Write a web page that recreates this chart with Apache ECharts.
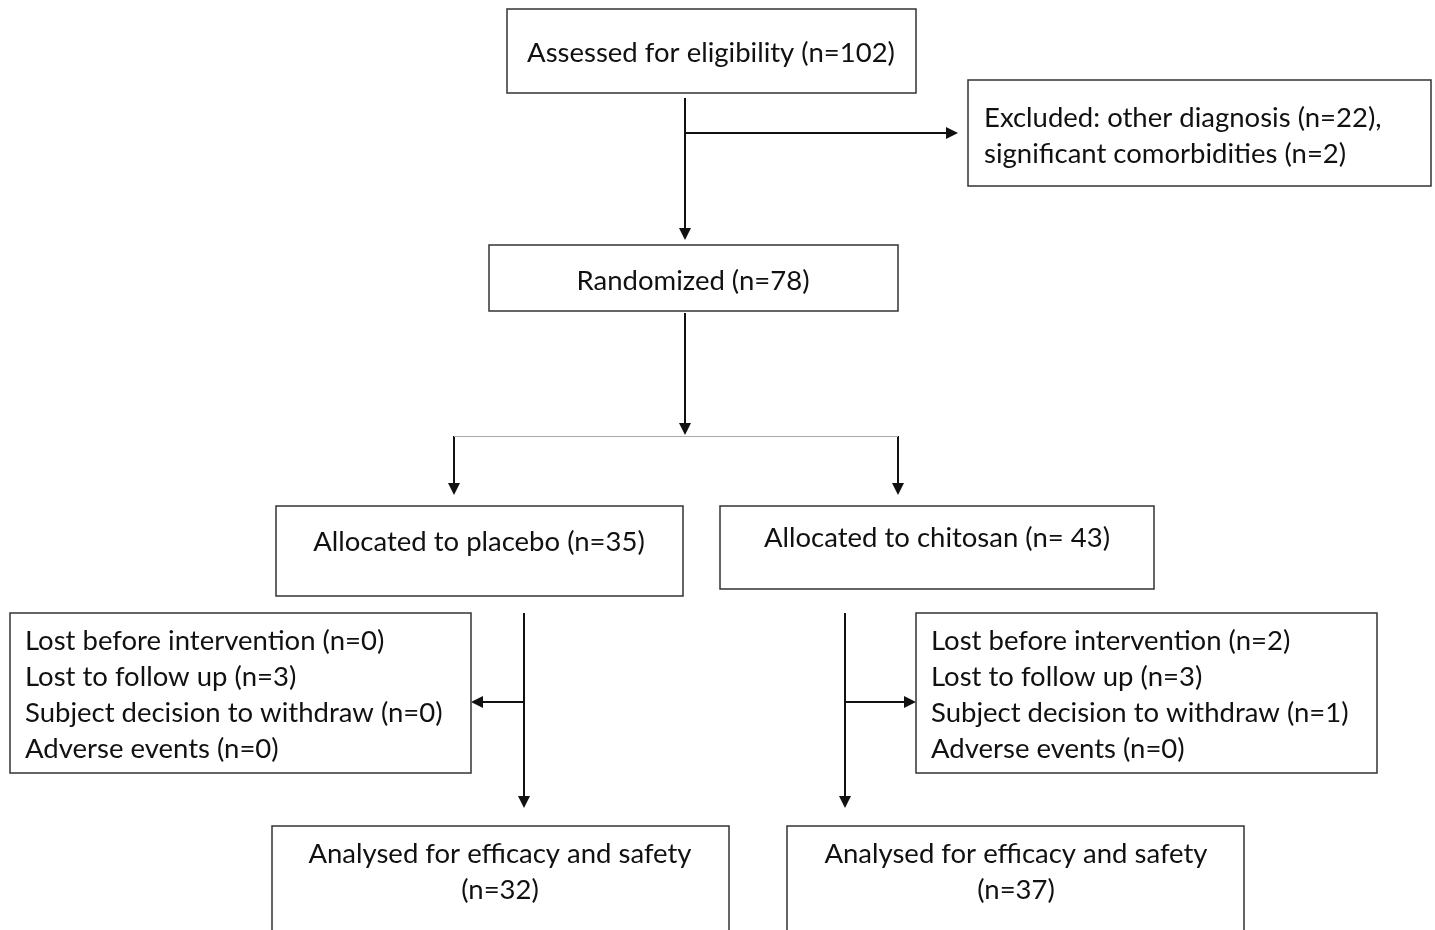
<!DOCTYPE html>
<html lang="en">
<head>
<meta charset="UTF-8">
<title>Flow diagram</title>
<script src="https://cdn.jsdelivr.net/npm/echarts@6/dist/echarts.min.js"></script>
<style>
    html, body { margin: 0; padding: 0; background: #fff; }
    #main { width: 1435px; height: 930px; }
</style>
</head>
<body>
<div id="main"></div>
<script>
// numbers
var assessed = 102;
var excludedReasons = ['other diagnosis', 'significant comorbidities'];
var excludedCounts = [22, 2];
var randomized = 78;
var arms = ['placebo', 'chitosan'];
var allocated = [35, 43];
var lossReasons = ['Lost before intervention', 'Lost to follow up', 'Subject decision to withdraw', 'Adverse events'];
var lossPlacebo = [0, 3, 0, 0];
var lossChitosan = [2, 3, 1, 0];
var analysed = [32, 37];

function lossText(counts) {
    return lossReasons.map(function (r, i) { return r + ' (n=' + counts[i] + ')'; }).join('\n');
}

// text of each box, same order as the layout below
var boxTexts = [
    'Assessed for eligibility (n=' + assessed + ')',
    'Excluded: ' + excludedReasons[0] + ' (n=' + excludedCounts[0] + '),\n' + excludedReasons[1] + ' (n=' + excludedCounts[1] + ')',
    'Randomized (n=' + randomized + ')',
    'Allocated to ' + arms[0] + ' (n=' + allocated[0] + ')',
    'Allocated to ' + arms[1] + ' (n= ' + allocated[1] + ')',
    lossText(lossPlacebo),
    lossText(lossChitosan),
    'Analysed for efficacy and safety\n(n=' + analysed[0] + ')',
    'Analysed for efficacy and safety\n(n=' + analysed[1] + ')'
];

// layout (page pixels): box x0, y0, x1, y1, text anchor x, y
var boxLayout = [
    [507, 9, 916, 93, 711, 53],
    [968, 80, 1431, 186, 984, 136],
    [489, 245, 898, 311, 693, 281],
    [276, 506, 683, 596, 479, 542],
    [720, 506, 1154, 589, 937, 538],
    [10, 613, 471, 773, 25, 695],
    [916, 613, 1377, 773, 931, 695],
    [272, 826, 729, 945, 500, 872],
    [787, 826, 1244, 945, 1016, 872]
];
var boxAlign = ['center', 'left', 'center', 'center', 'center', 'left', 'left', 'center', 'center'];

var arrowLayout = [
    [[685, 98], [685, 234]],
    [[685, 133], [952, 133]],
    [[685, 313], [685, 429]],
    [[454, 436], [454, 489]],
    [[898, 436], [898, 489]],
    [[524, 613], [524, 802]],
    [[524, 702], [477, 702]],
    [[845, 613], [845, 802]],
    [[845, 702], [910, 702]]
];
var splitLine = [[[454, 436], [898, 436]]];

var myChart = echarts.init(document.getElementById('main'));
var option = {
    backgroundColor: '#fff',
    animation: false,
    grid: { left: 0, right: 0, top: 0, bottom: 0 },
    xAxis: { type: 'value', min: 0, max: 1435, show: false },
    yAxis: { type: 'value', min: 0, max: 930, inverse: true, show: false },
    series: [
        {
            type: 'lines',
            coordinateSystem: 'cartesian2d',
            silent: true,
            symbol: ['none', 'triangle'],
            symbolSize: [11, 12],
            lineStyle: { color: '#111', width: 2, opacity: 1 },
            data: arrowLayout.map(function (c) { return { coords: c }; })
        },
        {
            type: 'lines',
            coordinateSystem: 'cartesian2d',
            silent: true,
            symbol: 'none',
            lineStyle: { color: '#aaa', width: 1.2, opacity: 1 },
            data: splitLine.map(function (c) { return { coords: c }; })
        },
        {
            type: 'custom',
            silent: true,
            data: boxLayout,
            renderItem: function (params, api) {
                var p0 = api.coord([api.value(0), api.value(1)]);
                var p1 = api.coord([api.value(2), api.value(3)]);
                var t = api.coord([api.value(4), api.value(5)]);
                return {
                    type: 'group',
                    children: [
                        {
                            type: 'rect',
                            shape: { x: p0[0], y: p0[1], width: p1[0] - p0[0], height: p1[1] - p0[1] },
                            style: { fill: '#fff', stroke: '#333', lineWidth: 1.5 }
                        },
                        {
                            type: 'text',
                            x: t[0],
                            y: t[1],
                            style: {
                                text: boxTexts[params.dataIndex],
                                font: '27.5px Lato',
                                fill: '#111',
                                align: boxAlign[params.dataIndex],
                                verticalAlign: 'middle',
                                lineHeight: 36
                            }
                        }
                    ]
                };
            }
        }
    ]
};
myChart.setOption(option);
</script>
</body>
</html>
